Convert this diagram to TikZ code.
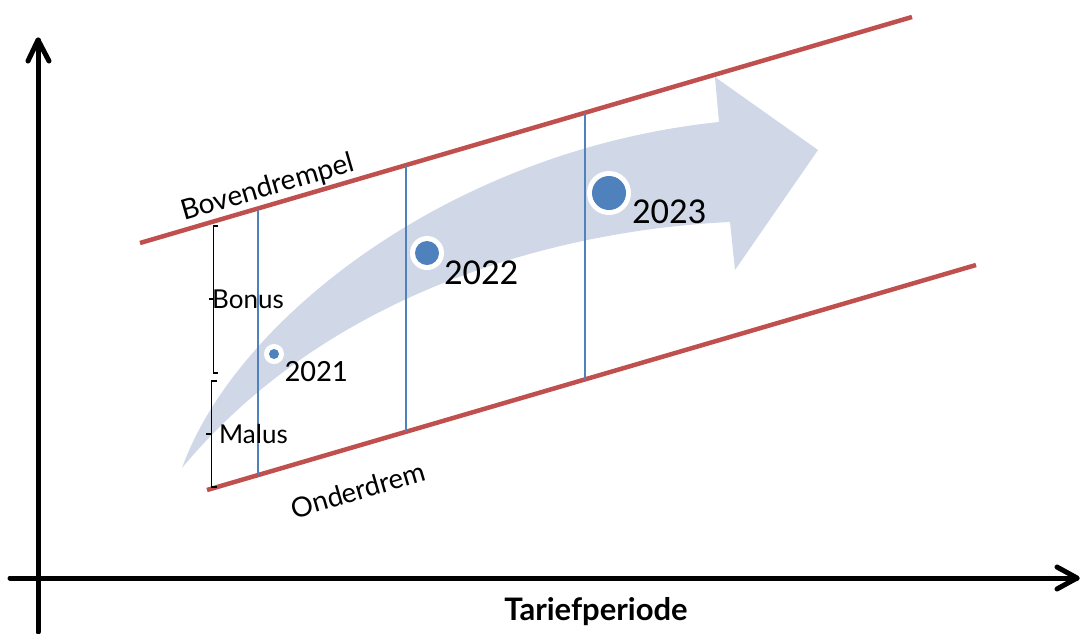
\documentclass[tikz,border=0pt]{standalone}
\usepackage{fontspec}
\setmainfont{Lato}
\newfontfamily\yearfont{Carlito}
\definecolor{redline}{RGB}{192,80,77}
\definecolor{blueline}{RGB}{79,129,189}
\definecolor{arrowfill}{RGB}{208,216,232}
\begin{document}
\begin{tikzpicture}[x=1pt,y=-1pt,
  axisline/.style={line width=5pt,black,line cap=round,line join=round},
  limitline/.style={line width=4.5pt,redline},
  periodline/.style={line width=1.4pt,blueline},
  bracestyle/.style={line width=1.3pt,black},
  dotring/.style={circle,fill=white,inner sep=0pt},
  dotcore/.style={circle,fill=blueline,inner sep=0pt},
  lbl/.style={inner sep=0pt,font=\fontsize{26}{30}\selectfont},
  yearlbl/.style={inner sep=0pt,font=\yearfont},
]
\useasboundingbox (0,0) rectangle (1080,633);
% axes
\coordinate (yb) at (38,632); \coordinate (yt) at (38,40);
\coordinate (xl) at (10,578); \coordinate (xr) at (1077,578);
\draw[axisline] (yb) -- (yt);
\draw[axisline] (28,61) -- (yt) -- (49,61);
\draw[axisline] (xl) -- (xr);
\draw[axisline] (1057,567) -- (xr) -- (1057,589);
% curved arrow
\fill[arrowfill] (182,468) .. controls (235,320) and (450,150) .. (719,122)
  -- (715,77) -- (818,150) -- (735,270) -- (730,222)
  .. controls (560,230) and (330,290) .. (182,468) -- cycle;
% limit lines
\coordinate (ua) at (140,243); \coordinate (ub) at (912,17);
\coordinate (la) at (207,490); \coordinate (lb) at (976,265);
\draw[limitline] (ua) -- (ub);
\draw[limitline] (la) -- (lb);
% period lines
\coordinate (p1t) at (258,209); \coordinate (p1b) at (258,475);
\coordinate (p2t) at (406,166); \coordinate (p2b) at (406,432);
\coordinate (p3t) at (585,113); \coordinate (p3b) at (585,380);
\draw[periodline] (p1t) -- (p1b);
\draw[periodline] (p2t) -- (p2b);
\draw[periodline] (p3t) -- (p3b);
% dots
\node[dotring,minimum size=20pt] (r1) at (274,354) {};
\node[dotcore,minimum size=10pt] (d1) at (r1) {};
\node[dotring,minimum size=34pt] (r2) at (427,253) {};
\node[dotcore,minimum size=24pt] (d2) at (r2) {};
\node[dotring,minimum size=44pt] (r3) at (609,193) {};
\node[dotcore,minimum size=34pt] (d3) at (r3) {};
% year labels
\node[yearlbl,font=\yearfont\fontsize{31}{34}\selectfont] (y1) at (316,372) {2021};
\node[yearlbl,font=\yearfont\fontsize{36.5}{40}\selectfont] (y2) at (481,273) {2022};
\node[yearlbl,font=\yearfont\fontsize{36.5}{40}\selectfont] (y3) at (669,212) {2023};
% rotated labels
\node[lbl,rotate=16.3,font=\fontsize{28}{32}\selectfont] (bov) at (268,188) {Bovendrempel};
\node[lbl,rotate=16.3,font=\fontsize{27.5}{32}\selectfont] (ond) at (358,490) {Onderdrem};
% braces
\draw[bracestyle] (218,226) -- (213.5,226) -- (213.5,373) -- (218,373);
\draw[bracestyle] (208.5,299) -- (213.5,299);
\draw[bracestyle] (217,381) -- (211.5,381) -- (211.5,487) -- (217,487);
\draw[bracestyle] (206,434) -- (211.5,434);
\node[lbl,anchor=west] (bonus) at (212,299) {Bonus};
\node[lbl,anchor=west] (malus) at (219,434) {Malus};
% axis title
\node[lbl,font=\bfseries\fontsize{31}{34}\selectfont] (title) at (596,612) {Tariefperiode};
\end{tikzpicture}
\end{document}
